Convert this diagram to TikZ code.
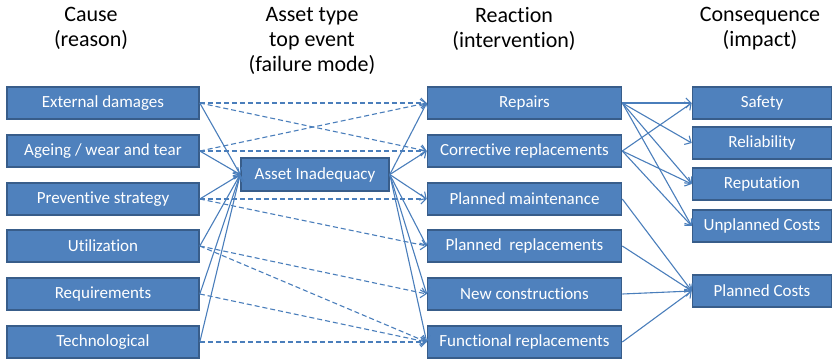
\documentclass[tikz,border=0pt]{standalone}
\usepackage{fontspec}
\setmainfont{Carlito}[Ligatures={NoCommon,NoRequired,NoContextual}]
\usetikzlibrary{arrows.meta}
\definecolor{boxfill}{HTML}{4F81BD}
\definecolor{boxline}{HTML}{385D8A}
\definecolor{linkblue}{HTML}{4A7EBB}

\begin{document}
\begin{tikzpicture}[x=1bp,y=-1bp,
  box/.style={draw=boxline, fill=boxfill, line width=1.6bp, text=white,
    font=\fontsize{17bp}{20bp}\selectfont, inner sep=0pt, minimum height=32bp},
  causebox/.style={box, minimum width=192bp},
  reactbox/.style={box, minimum width=194bp},
  conbox/.style={box, minimum width=139bp},
  head/.style={font=\fontsize{22bp}{25bp}\selectfont, align=center, anchor=north, inner sep=0pt},
  link/.style={draw=linkblue, line width=1.1bp, -{Straight Barb[length=5bp,width=10bp]}},
  dlink/.style={link, dash pattern=on 5bp off 3bp}]

\useasboundingbox (0,0) rectangle (834,359);

% column headings
\node[head] (hcause) at (91,7) {Cause\\(reason)};
\node[head] (hasset) at (312,7) {Asset type\\top event\\(failure mode)};
\node[head] (hreact) at (514,7) {Reaction\\(intervention)};
\node[head] (hcons)  at (760,7) {Consequence\\(impact)};

% causes
\node[causebox] (c1) at (103,103) {External damages};
\node[causebox] (c2) at (103,151) {Ageing / wear and tear};
\node[causebox] (c3) at (103,199) {Preventive strategy};
\node[causebox] (c4) at (103,246) {Utilization};
\node[causebox] (c5) at (103,294) {Requirements};
\node[causebox] (c6) at (103,342) {Technological};

% top event
\node[box, minimum width=148bp, minimum height=33bp] (ai) at (315,174.5) {Asset Inadequacy};

% reactions
\node[reactbox] (r1) at (524.5,103) {Repairs};
\node[reactbox] (r2) at (524.5,151) {Corrective replacements};
\node[reactbox] (r3) at (524.5,199) {Planned maintenance};
\node[reactbox] (r4) at (524.5,246) {Planned\ \ replacements};
\node[reactbox] (r5) at (524.5,294) {New constructions};
\node[reactbox] (r6) at (524.5,342) {Functional replacements};

% consequences
\node[conbox] (k1) at (762,103) {Safety};
\node[conbox] (k2) at (762,143) {Reliability};
\node[conbox] (k3) at (762,184) {Reputation};
\node[conbox] (k4) at (762,226) {Unplanned Costs};
\node[conbox] (k5) at (762,291) {Planned Costs};

% causes lead to the top event
\foreach \c in {c1,c2,c3,c4,c5,c6}
  \draw[link] (\c.east) -- (ai.west);

% top event leads to every reaction
\foreach \r in {r1,r2,r3,r4,r5,r6}
  \draw[link] (ai.east) -- (\r.west);

% direct cause-to-reaction links
\draw[dlink] (c1.east) -- (r1.west);
\draw[dlink] (c1.east) -- (r2.west);
\draw[dlink] (c2.east) -- (r1.west);
\draw[dlink] (c2.east) -- (r2.west);
\draw[dlink] (c3.east) -- (r3.west);
\draw[dlink] (c3.east) -- (r4.west);
\draw[dlink] (c4.east) -- (r5.west);
\draw[dlink] (c4.east) -- (r6.west);
\draw[dlink] (c5.east) -- (r6.west);
\draw[dlink] (c6.east) -- (r6.west);

% reactions lead to consequences
\draw[link] (r1.east) -- (k1.west);
\draw[link] (r1.east) -- (k2.west);
\draw[link] (r1.east) -- (k3.west);
\draw[link] (r1.east) -- (k4.west);
\draw[link] (r2.east) -- (k1.west);
\draw[link] (r2.east) -- (k3.west);
\draw[link] (r2.east) -- (k4.west);
\draw[link] (r3.east) -- (k5.west);
\draw[link] (r4.east) -- (k5.west);
\draw[link] (r5.east) -- (k5.west);
\draw[link] (r6.east) -- (k5.west);
\end{tikzpicture}
\end{document}
